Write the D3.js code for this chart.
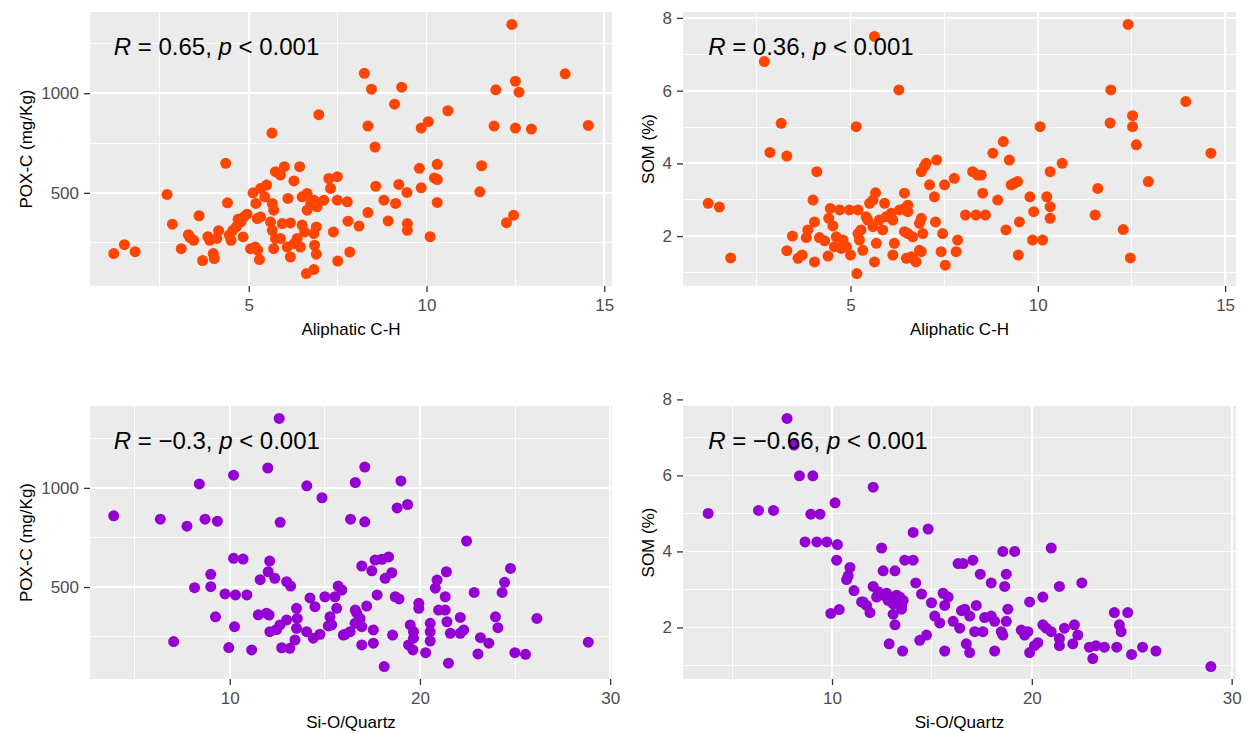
<!DOCTYPE html>
<head>
<meta charset="utf-8">
<title>POX-C e SOM vs Aliphatic C-H e Si-O/Quartz</title>
<script src="https://d3js.org/d3.v7.min.js"></script>

<style>
body { margin: 0; background: #ffffff; }

/* PANEL */
.panel-bg { fill: #ebebeb; }
.grid-major { stroke: #ffffff; stroke-width: 1.8; shape-rendering: crispEdges; }
.grid-minor { stroke: #ffffff; stroke-width: 0.9; shape-rendering: crispEdges; }

/* AXES */
.axis path { display: none; }
.axis line { stroke: #333333; stroke-width: 1.3; }
.axis text {
  fill: #4d4d4d;
  font-family: "Liberation Sans", Arial, sans-serif;
  font-size: 17px;
}
.axis-title {
  fill: #000000;
  font-family: "Liberation Sans", Arial, sans-serif;
  font-size: 17px;
}

/* COR LABEL */
.cor-label {
  fill: #000000;
  font-family: "Liberation Sans", Arial, sans-serif;
  font-size: 24px;
  white-space: pre;
}
</style>
</head>

<body>
<div id="container"></div>

<script>

//------------------------------DATA------------------------------//

// Aliphatic C-H vs POX-C (mg/Kg)
const aliphaticPoxC = [
  [1.2,195],[1.5,240],[1.8,205],[2.7,492],[2.85,343],[3.1,220],[3.3,290],[3.35,275],[3.45,262],
  [3.6,385],[3.7,160],[3.85,280],[3.9,262],[4.0,195],[4.03,170],[4.15,310],[4.1,271],[4.35,648],
  [4.4,450],[4.45,288],[4.5,262],[4.55,312],[4.65,330],[4.7,368],[4.78,354],[4.86,379],[4.95,393],
  [4.84,279],[5.05,220],[5.18,228],[5.25,212],[5.3,165],[5.24,371],[5.33,379],[5.12,500],[5.2,447],
  [5.33,522],[5.5,539],[5.45,480],[5.66,447],[5.7,413],[5.65,800],[5.75,606],[5.89,589],[6.0,631],
  [5.61,354],[5.66,312],[5.75,271],[5.7,220],[5.89,271],[5.94,346],[6.17,349],[6.1,472],[6.27,560],
  [6.43,631],[6.08,228],[6.17,178],[6.36,271],[6.45,228],[6.27,245],[6.5,480],[6.64,497],[6.64,413],
  [6.74,447],[6.5,338],[6.57,304],[6.83,463],[6.92,430],[6.9,329],[6.83,296],[6.85,237],[6.9,192],
  [6.62,95],[6.83,115],[6.97,892],[7.11,463],[7.25,572],[7.3,522],[7.49,581],[7.49,463],[7.77,455],
  [7.38,304],[7.5,158],[7.84,203],[7.79,358],[8.1,333],[8.35,401],[8.57,533],[8.8,463],[9.13,447],
  [9.22,542],[9.45,502],[8.92,359],[9.46,346],[9.46,312],[8.25,1100],[8.45,1020],[9.1,945],[9.3,1030],
  [8.35,835],[8.55,730],[9.85,825],[10.05,857],[10.6,912],[11.95,1017],[11.9,835],[12.4,1345],
  [12.5,1060],[12.6,1005],[12.5,825],[12.95,820],[13.9,1097],[14.55,838],[11.55,636],[11.5,505],
  [12.45,388],[12.25,350],[10.3,643],[10.3,567],[10.22,575],[10.3,452],[9.8,623],[9.85,525],[10.1,280]
];

// Aliphatic C-H vs SOM (%)
const aliphaticSom = [
  [1.2,2.9],[1.5,2.8],[1.8,1.4],[2.7,6.8],[2.85,4.3],[3.15,5.1],[3.3,4.2],[3.3,1.6],[3.45,2.0],
  [3.6,1.39],[3.71,1.48],[3.82,1.96],[3.86,2.17],[4.0,2.99],[4.04,2.39],[4.04,1.29],[4.1,3.77],
  [4.17,1.96],[4.31,1.87],[4.4,1.45],[4.42,2.49],[4.46,2.76],[4.53,2.28],[4.57,1.71],[4.62,1.98],
  [4.71,2.72],[4.75,1.66],[4.8,1.89],[4.97,2.72],[5.0,1.48],[4.89,1.71],[5.15,5.01],[5.17,0.97],
  [5.2,2.72],[5.2,2.07],[5.24,1.89],[5.33,1.61],[5.28,2.17],[5.42,2.53],[5.46,2.44],[5.51,2.9],
  [5.6,2.99],[5.67,3.19],[5.64,7.49],[5.69,1.8],[5.64,1.29],[5.6,2.26],[5.77,2.44],[5.86,2.17],
  [5.91,2.9],[5.95,2.53],[6.09,2.63],[6.13,2.44],[6.17,1.8],[6.13,1.48],[6.29,6.02],[6.31,2.72],
  [6.44,2.76],[6.53,2.85],[6.53,2.67],[6.44,3.18],[6.44,2.12],[6.53,2.07],[6.49,1.39],[6.62,1.43],
  [6.66,1.39],[6.75,1.29],[6.66,1.98],[6.84,1.61],[6.89,1.57],[6.84,2.35],[6.89,2.49],[6.93,2.07],
  [6.89,3.77],[6.97,3.91],[7.02,4.0],[7.11,3.41],[7.24,3.08],[7.27,2.39],[7.3,4.09],[7.42,1.57],
  [7.46,2.07],[7.51,3.41],[7.53,1.2],[7.77,3.59],[7.86,1.89],[7.82,1.57],[8.07,2.58],[8.35,2.58],
  [8.6,2.58],[8.26,3.77],[8.39,3.68],[8.49,3.68],[8.53,3.18],[8.8,4.28],[8.93,2.99],[9.08,4.6],
  [9.15,2.17],[9.24,4.09],[9.29,3.41],[9.37,3.45],[9.46,3.5],[9.51,2.39],[9.48,1.48],[9.79,3.08],
  [9.86,1.89],[9.89,2.67],[10.06,5.01],[10.13,1.89],[10.24,3.08],[10.33,3.77],[10.33,2.81],
  [10.33,2.49],[10.65,4.0],[11.53,2.58],[11.6,3.31],[11.95,6.02],[11.93,5.11],[12.28,2.18],
  [12.41,7.82],[12.47,1.4],[12.53,5.31],[12.53,5.01],[12.63,4.51],[12.95,3.5],[13.95,5.7],[14.62,4.28]
];

// Si-O/Quartz vs POX-C (mg/Kg)
const quartzPoxC = [
  [3.9,859],[6.35,842],[7.75,807],[8.4,1020],[8.7,842],[9.35,832],[7.05,225],[8.15,497],[9.0,564],
  [9.0,502],[9.25,350],[9.75,465],[9.95,195],[10.2,1064],[10.2,645],[10.7,641],[10.3,460],[10.9,460],
  [10.25,300],[11.15,183],[11.6,537],[11.5,360],[11.93,368],[12.07,359],[12.0,1100],[12.1,631],
  [12.02,577],[12.37,544],[12.6,1350],[12.65,826],[12.99,527],[13.2,505],[12.11,275],[12.46,286],
  [12.64,309],[12.99,334],[12.73,194],[13.16,191],[13.43,233],[13.51,292],[13.55,342],[13.51,393],
  [14.05,1010],[14.22,445],[14.48,401],[14.04,275],[14.39,242],[14.74,262],[14.85,950],[15.0,451],
  [15.53,451],[15.7,505],[15.89,485],[15.27,350],[15.36,309],[15.62,393],[15.18,304],[15.97,258],
  [16.33,275],[16.59,317],[16.68,368],[16.85,342],[16.94,300],[16.94,208],[17.55,217],[17.55,284],
  [17.2,404],[17.75,460],[16.35,842],[16.6,1027],[17.1,1105],[17.1,829],[19.0,1035],[18.8,899],
  [19.35,916],[22.45,732],[16.94,606],[17.47,582],[17.64,636],[18.0,640],[18.35,652],[18.17,544],
  [18.52,572],[18.7,451],[18.9,440],[18.56,258],[18.12,99],[19.49,309],[19.66,275],[19.66,242],
  [19.4,208],[19.63,183],[19.94,418],[19.94,393],[20.3,169],[20.54,317],[20.54,275],[20.54,228],
  [20.81,494],[20.9,535],[21.39,577],[20.98,384],[21.33,384],[21.42,325],[21.33,451],[21.6,267],
  [22.12,267],[22.3,284],[22.12,347],[21.5,116],[22.85,473],[23.18,245],[23.62,217],[23.05,163],
  [23.97,350],[24.1,295],[24.32,473],[24.45,524],[24.76,594],[24.99,169],[25.55,161],[26.15,342],
  [28.85,222],[16.6,384],[16.06,262]
];

// Si-O/Quartz vs SOM (%)
const quartzSom = [
  [3.8,5.0],[6.32,5.08],[7.07,5.08],[7.75,7.5],[8.1,6.8],[8.37,5.99],[9.04,5.99],[8.65,4.25],
  [9.24,4.25],[9.74,4.25],[8.94,4.98],[9.4,4.98],[10.15,5.28],[10.27,4.18],[10.23,3.77],[9.94,2.37],
  [10.36,2.47],[10.9,3.58],[10.81,3.36],[10.73,3.26],[11.1,2.97],[11.48,2.67],[11.73,2.58],[11.9,2.39],
  [12.06,5.69],[12.48,4.09],[12.56,3.49],[12.06,3.08],[12.31,2.94],[12.56,2.85],[12.73,2.9],[12.9,2.8],
  [13.23,2.85],[13.48,2.58],[13.56,2.71],[13.48,2.48],[12.86,1.57],[13.15,3.49],[13.06,2.35],
  [13.53,1.38],[13.64,3.77],[14.06,3.77],[14.06,4.5],[14.19,3.17],[14.48,2.88],[14.81,4.59],
  [14.39,1.66],[14.73,1.8],[14.98,2.65],[15.14,2.3],[15.39,2.12],[15.56,2.9],[15.64,2.58],[15.64,1.38],
  [11.56,2.67],[12.23,2.8],[12.81,2.71],[13.06,2.62],[13.39,2.8],[13.15,2.07],[15.81,2.8],[16.06,2.16],
  [16.39,1.98],[16.31,3.68],[16.56,3.68],[17.05,3.77],[16.48,2.44],[16.64,2.48],[16.89,2.3],
  [16.72,1.57],[16.89,1.34],[17.22,2.58],[17.14,1.89],[17.55,1.89],[17.42,3.4],[17.64,2.26],
  [17.97,2.3],[18.14,2.16],[17.97,3.17],[18.14,1.38],[18.55,4.0],[19.14,4.0],[18.72,3.4],[18.64,3.08],
  [18.8,2.48],[18.72,2.16],[18.47,1.89],[18.55,1.8],[19.47,1.93],[19.64,1.8],[19.8,1.89],[19.89,2.67],
  [20.55,2.8],[19.89,1.34],[20.13,1.52],[20.3,1.6],[20.55,2.07],[20.72,1.98],[20.97,1.89],[20.97,4.09],
  [21.38,3.08],[21.38,1.71],[21.38,1.52],[21.63,1.98],[22.13,2.07],[22.3,1.8],[22.05,1.57],[22.5,3.17],
  [22.88,1.48],[23.21,1.52],[23.63,1.48],[23.05,1.18],[24.13,2.39],[24.8,2.39],[24.38,2.07],
  [24.47,1.89],[24.25,1.48],[24.99,1.29],[25.54,1.48],[26.21,1.38],[28.96,0.97]
];

// ticks
const aliphaticTicks = [5, 10, 15];
const quartzTicks = [10, 20, 30];
const poxTicks = [500, 1000];
const somTicks = [2, 4, 6, 8];

// correlation labels (R value, p value)
const corR = ["0.65", "0.36", "\u22120.3", "\u22120.66"];
const corP = "0.001";

//------------------------------SVG-------------------------------//

var width = 1246, height = 733;

var svg = d3.select("div#container")
  .append("svg")
    .attr("width", width)
    .attr("height", height);

var orange = "#ff4500",
    purple = "#9400d3";

var panels = [
  {data: aliphaticPoxC, xTicks: aliphaticTicks, yTicks: poxTicks, xTitle: "Aliphatic C-H",
   yTitle: "POX-C (mg/Kg)", r: corR[0], color: orange, left: 90, right: 612, top: 12, bottom: 286},
  {data: aliphaticSom, xTicks: aliphaticTicks, yTicks: somTicks, xTitle: "Aliphatic C-H",
   yTitle: "SOM (%)", r: corR[1], color: orange, left: 683, right: 1236, top: 12, bottom: 286},
  {data: quartzPoxC, xTicks: quartzTicks, yTicks: poxTicks, xTitle: "Si-O/Quartz",
   yTitle: "POX-C (mg/Kg)", r: corR[2], color: purple, left: 90, right: 612, top: 406, bottom: 679},
  {data: quartzSom, xTicks: quartzTicks, yTicks: somTicks, xTitle: "Si-O/Quartz",
   yTitle: "SOM (%)", r: corR[3], color: purple, left: 683, right: 1236, top: 406, bottom: 679}
];

// ggplot-like 5% expansion
function expand(ext) {
  var pad = (ext[1] - ext[0]) * 0.05;
  return [ext[0] - pad, ext[1] + pad];
}

// minor breaks = midpoints between major breaks (plus one step each side)
function minorTicks(ticks, domain) {
  var step = ticks[1] - ticks[0];
  var out = [];
  for (var v = ticks[0] - step / 2; v <= ticks[ticks.length - 1] + step / 2; v += step) {
    if (v >= domain[0] && v <= domain[1]) out.push(v);
  }
  return out;
}

//-----------------------------DRAW-------------------------------//

panels.forEach(function(p) {

  var x = d3.scaleLinear()
    .domain(expand(d3.extent(p.data, function(d) { return d[0]; })))
    .range([p.left, p.right]);
  var y = d3.scaleLinear()
    .domain(expand(d3.extent(p.data, function(d) { return d[1]; })))
    .range([p.bottom, p.top]);

  var g = svg.append("g");

  // background
  g.append("rect")
    .attr("class", "panel-bg")
    .attr("x", p.left)
    .attr("y", p.top)
    .attr("width", p.right - p.left)
    .attr("height", p.bottom - p.top);

  // minor grid
  g.selectAll(".gx-minor")
    .data(minorTicks(p.xTicks, x.domain()))
    .enter().append("line")
    .attr("class", "grid-minor")
    .attr("x1", function(d) { return x(d); }).attr("x2", function(d) { return x(d); })
    .attr("y1", p.top).attr("y2", p.bottom);
  g.selectAll(".gy-minor")
    .data(minorTicks(p.yTicks, y.domain()))
    .enter().append("line")
    .attr("class", "grid-minor")
    .attr("y1", function(d) { return y(d); }).attr("y2", function(d) { return y(d); })
    .attr("x1", p.left).attr("x2", p.right);

  // major grid
  g.selectAll(".gx-major")
    .data(p.xTicks)
    .enter().append("line")
    .attr("class", "grid-major")
    .attr("x1", function(d) { return x(d); }).attr("x2", function(d) { return x(d); })
    .attr("y1", p.top).attr("y2", p.bottom);
  g.selectAll(".gy-major")
    .data(p.yTicks)
    .enter().append("line")
    .attr("class", "grid-major")
    .attr("y1", function(d) { return y(d); }).attr("y2", function(d) { return y(d); })
    .attr("x1", p.left).attr("x2", p.right);

  // axes
  g.append("g")
    .attr("class", "axis")
    .attr("transform", "translate(0," + p.bottom + ")")
    .call(d3.axisBottom(x).tickValues(p.xTicks).tickSize(6).tickPadding(7)
      .tickFormat(d3.format("d")));

  var yAxis = g.append("g")
    .attr("class", "axis")
    .attr("transform", "translate(" + p.left + ",0)")
    .call(d3.axisLeft(y).tickValues(p.yTicks).tickSize(6).tickPadding(5)
      .tickFormat(d3.format("d")));

  // points
  g.selectAll(".point")
    .data(p.data)
    .enter().append("circle")
    .attr("cx", function(d) { return x(d[0]); })
    .attr("cy", function(d) { return y(d[1]); })
    .attr("r", 5.5)
    .style("fill", p.color);

  // axis titles
  g.append("text")
    .attr("class", "axis-title")
    .attr("x", (p.left + p.right) / 2)
    .attr("y", p.bottom + 49)
    .attr("text-anchor", "middle")
    .text(p.xTitle);

  var labelLeft = yAxis.node().getBBox().x + p.left;
  var tx = labelLeft - 9;
  g.append("text")
    .attr("class", "axis-title")
    .attr("transform", "translate(" + tx + "," + ((p.top + p.bottom) / 2) + ") rotate(-90)")
    .attr("text-anchor", "middle")
    .text(p.yTitle);

  // correlation label
  var lab = g.append("text")
    .attr("class", "cor-label")
    .attr("x", x(d3.min(p.data, function(d) { return d[0]; })))
    .attr("y", p.top + 43);
  lab.append("tspan").style("font-style", "italic").text("R");
  lab.append("tspan").text(" = " + p.r + ", ");
  lab.append("tspan").style("font-style", "italic").text("p");
  lab.append("tspan").text(" < " + corP);
});

</script>
</body>
